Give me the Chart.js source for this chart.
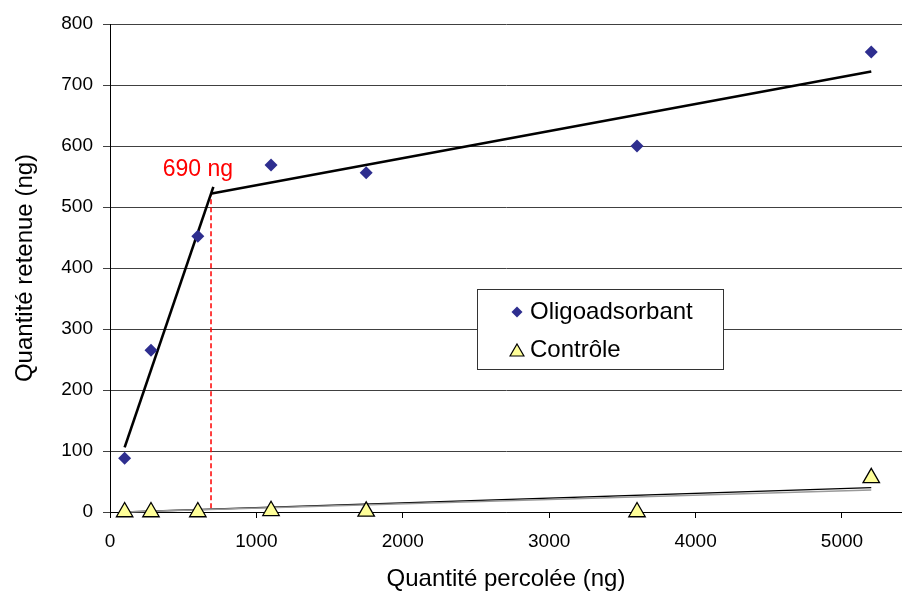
<!DOCTYPE html>
<html>
<head>
<meta charset="utf-8">
<script src="https://cdn.jsdelivr.net/npm/chart.js@4.4.1/dist/chart.umd.min.js"></script>
<style>
  html, body { margin: 0; padding: 0; background: #fff; }
  #wrap { width: 902px; height: 597px; }
</style>
</head>
<body>
<div id="wrap"><canvas id="graphic" width="902" height="597"></canvas></div>
<script>
// --- DONNÉES ---
const percolee = [100, 280, 600, 1100, 1750, 3600, 5200];
const oligo = [88, 265, 452, 569, 556, 600, 754];
const controle = [0, 0, 0, 2, 1, 0, 56];

// droites de tendance
const penteX = [100, 706];
const penteY = [106, 533];
const plateauX = [695, 5200];
const plateauY = [522, 722];
const ctrlFitX = [100, 5200];
const ctrlFitY = [0, 40];
const ctrlFit2Y = [0, 36];
const seuilX = [690, 690];
const seuilY = [6, 522];

const xTicks = [0, 1000, 2000, 3000, 4000, 5000];
const yTicks = [0, 100, 200, 300, 400, 500, 600, 700, 800];
const series = ["Oligoadsorbant", "Contrôle"];
const seuilLabel = "690 ng";

const police = "'Liberation Sans', Arial, sans-serif";
Chart.defaults.font.family = police;
Chart.defaults.color = "#000";

function points(xs, ys) {
    return xs.map((x, i) => ({ x: x, y: ys[i] }));
}

function droite(xs, ys, couleur, largeur, dash) {
    return {
        type: "line",
        data: points(xs, ys),
        borderColor: couleur,
        borderWidth: largeur,
        borderDash: dash || [],
        pointRadius: 0,
        fill: false,
        clip: false,
        order: 2
    };
}

// texte "690 ng" + légende dans le graphique
const extras = {
    id: "extras",
    afterDraw(chart) {
        const ctx = chart.ctx;
        const sx = chart.scales.x, sy = chart.scales.y;
        ctx.save();

        ctx.fillStyle = "#ff0000";
        ctx.font = "23px " + police;
        ctx.textAlign = "center";
        ctx.textBaseline = "alphabetic";
        ctx.fillText(seuilLabel, sx.getPixelForValue(600), sy.getPixelForValue(551));

        // légende
        const bx = 477, by = 289, bw = 246, bh = 80;
        ctx.fillStyle = "#fff";
        ctx.fillRect(bx, by, bw, bh);
        ctx.strokeStyle = "#333";
        ctx.lineWidth = 1;
        ctx.strokeRect(bx + 0.5, by + 0.5, bw, bh);

        ctx.fillStyle = "#2e2e8f";
        ctx.strokeStyle = "#2e2e8f";
        Chart.helpers.drawPoint(ctx, { pointStyle: "rectRot", radius: 5.5, borderWidth: 0, rotation: 0 }, 517, 312);
        ctx.fillStyle = "#ffff99";
        ctx.strokeStyle = "#000";
        ctx.lineWidth = 1.2;
        Chart.helpers.drawPoint(ctx, { pointStyle: "triangle", radius: 8, borderWidth: 1.2, rotation: 0 }, 517, 352);

        ctx.fillStyle = "#000";
        ctx.font = "24px " + police;
        ctx.textAlign = "left";
        ctx.textBaseline = "alphabetic";
        ctx.fillText(series[0], 530, 319);
        ctx.fillText(series[1], 530, 357);
        ctx.restore();
    }
};

new Chart(document.getElementById("graphic").getContext("2d"), {
    type: "scatter",
    data: {
        datasets: [
            {
                label: series[0],
                data: points(percolee, oligo),
                pointStyle: "rectRot",
                pointRadius: 6.5,
                backgroundColor: "#2e2e8f",
                borderColor: "#2e2e8f",
                borderWidth: 0,
                clip: false,
                order: 1
            },
            {
                label: series[1],
                data: points(percolee, controle),
                pointStyle: "triangle",
                pointRadius: 9.5,
                backgroundColor: "#ffff99",
                borderColor: "#000",
                borderWidth: 1.3,
                clip: false,
                order: 0
            },
            droite(penteX, penteY, "#000", 2.6),
            droite(plateauX, plateauY, "#000", 2.6),
            droite(ctrlFitX, ctrlFit2Y, "#9a9a9a", 1.5),
            droite(ctrlFitX, ctrlFitY, "#000", 1.3),
            droite(seuilX, seuilY, "#ff0000", 1.5, [5, 3])
        ]
    },
    options: {
        responsive: false,
        animation: false,
        devicePixelRatio: 1,
        layout: { autoPadding: false, padding: { top: 24, right: 0, bottom: 0, left: 0 } },
        plugins: {
            legend: { display: false },
            tooltip: { enabled: false }
        },
        scales: {
            x: {
                type: "linear",
                min: 0,
                max: 5410,
                afterBuildTicks: (s) => { s.ticks = xTicks.map(v => ({ value: v })); },
                afterFit: (s) => { s.height = 85; },
                grid: { drawOnChartArea: false, tickLength: 6, color: "#000" },
                border: { color: "#000", width: 1 },
                ticks: { font: { size: 19 }, color: "#000", padding: 12, maxRotation: 0, callback: (v) => String(v) },
                title: {
                    display: true,
                    text: "Quantité percolée (ng)",
                    font: { size: 24 },
                    color: "#000",
                    padding: { top: 0, bottom: 3 }
                }
            },
            y: {
                min: 0,
                max: 800,
                afterBuildTicks: (s) => { s.ticks = yTicks.map(v => ({ value: v })); },
                afterFit: (s) => { s.width = 110; },
                grid: { color: "#404040", tickLength: 7 },
                border: { color: "#000", width: 1 },
                ticks: { font: { size: 19 }, color: "#000", padding: 10, callback: (v) => String(v) },
                title: {
                    display: true,
                    text: "Quantité retenue (ng)",
                    font: { size: 24 },
                    color: "#000",
                    padding: { top: 11, bottom: 0 }
                }
            }
        }
    },
    plugins: [extras]
});
</script>
</body>
</html>
